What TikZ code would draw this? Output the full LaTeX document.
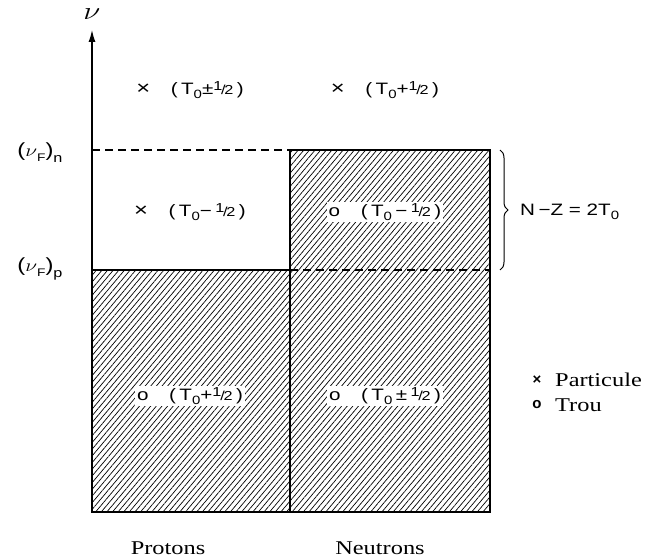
\documentclass[tikz,border=0pt]{standalone}
\usepackage{fontspec}
\setmainfont{Liberation Serif}
\setsansfont{Liberation Sans}
\usetikzlibrary{patterns.meta,decorations.pathreplacing,arrows.meta}
\newcommand{\Tz}{T\raisebox{-0.45ex}{\fontsize{12}{12}\selectfont 0}}
\newcommand{\hf}{{\fontsize{13}{13}\selectfont\raisebox{0.5ex}{1}\kern-1pt/\kern-1pt\raisebox{-0.1ex}{2}}}
\newcommand{\cx}{{\fontsize{19}{19}\selectfont ×}}
\newcommand{\wide}[1]{\scalebox{1.25}[1]{#1}}
\tikzset{
  lab/.style={font=\sffamily\fontsize{16.5}{16.5}\selectfont, inner sep=2pt},
  wlab/.style={lab, fill=white},
  hatch/.style={pattern={Lines[angle=50,distance=4.3pt,line width=0.7pt]}},
  side/.style={font=\fontsize{19.5}{19.5}\selectfont, inner sep=0pt},
  frame/.style={line width=1.2pt},
}
\begin{document}
\begin{tikzpicture}[x=1pt,y=-1pt]
\useasboundingbox (0,0) rectangle (654,559);
% hatched regions
\fill[hatch] (92,270) rectangle (290,512);
\fill[hatch] (290,150) rectangle (490,512);
% frames
\draw[frame] (92,270) rectangle (290,512);
\draw[frame] (290,150) rectangle (490,512);
\draw[frame, dash pattern=on 8pt off 5pt] (92,150) -- (290,150);
\draw[frame, dash pattern=on 8pt off 5pt] (290,270) -- (490,270);
% axis
\coordinate (a0) at (92,512);
\coordinate (a1) at (92,30);
\draw[frame, -{Latex[length=12pt,width=7pt]}] (a0) -- (a1);
\node[font=\fontsize{24}{24}\selectfont, inner sep=0pt] (nu) at (92,14) {\wide{$\nu$}};
\node[font=\sffamily\fontsize{19}{19}\selectfont, inner sep=0pt] (fn) at (40,153) {\wide{($\nu$\raisebox{-0.5ex}{\fontsize{11}{11}\selectfont F})\raisebox{-0.6ex}{\fontsize{13}{13}\selectfont n}}};
\node[font=\sffamily\fontsize{19}{19}\selectfont, inner sep=0pt] (fp) at (40,269) {\wide{($\nu$\raisebox{-0.5ex}{\fontsize{11}{11}\selectfont F})\raisebox{-0.6ex}{\fontsize{13}{13}\selectfont p}}};
% labels
\node[lab] (l1) at (190,90) {\wide{\cx\quad(\,\Tz±\hf\,)}};
\node[lab] (l2) at (385,90) {\wide{\cx\quad(\,\Tz+\hf\,)}};
\node[lab] (l3) at (190,212) {\wide{\cx\quad(\,\Tz−\,\hf\,)}};
\node[wlab] (l4) at (385,212) {\wide{o\quad(\,\Tz\,−\,\hf\,)}};
\node[wlab] (l5) at (190,396) {\wide{o\quad(\,\Tz+\hf\,)}};
\node[wlab] (l6) at (385,396) {\wide{o\quad(\,\Tz\,±\,\hf\,)}};
% brace
\coordinate (b0) at (500,150);
\coordinate (b1) at (500,270);
\draw[line width=1pt, decorate, decoration={brace, amplitude=8pt}] (b0) -- (b1);
\node[lab, anchor=west] (nz) at (518,212) {\wide{N\,−Z = 2\Tz}};
% legend
\node[font=\sffamily\fontsize{15}{15}\selectfont\bfseries, inner sep=0pt] (lx) at (537,380) {×};
\node[side, anchor=west] (px) at (555,380) {\wide{Particule}};
\node[font=\sffamily\fontsize{15}{15}\selectfont\bfseries, inner sep=0pt] (lo) at (537,405) {o};
\node[side, anchor=west] (po) at (555,405) {\wide{Trou}};
% columns
\node[side] (pr) at (168,548) {\wide{Protons}};
\node[side] (ne) at (380,548) {\wide{Neutrons}};
\end{tikzpicture}
\end{document}
